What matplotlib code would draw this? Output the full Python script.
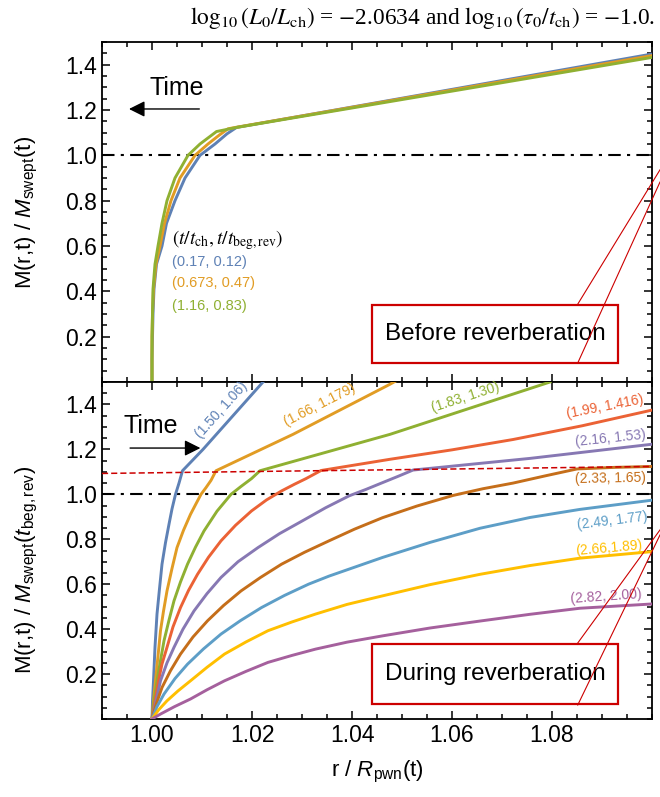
import numpy as np
import matplotlib
matplotlib.use("Agg")
import matplotlib.pyplot as plt
from matplotlib.ticker import MultipleLocator, FormatStrFormatter
from matplotlib.patches import Rectangle

plt.rcParams['font.family'] = ['Liberation Sans', 'DejaVu Sans']
plt.rcParams['mathtext.fontset'] = 'custom'
plt.rcParams['mathtext.rm'] = 'Liberation Sans'
plt.rcParams['mathtext.it'] = 'Liberation Sans:italic'
plt.rcParams['mathtext.bf'] = 'Liberation Sans:bold'

# Mathematica default palette
c_blue, c_orange, c_green = "#5E81B5", "#E19C24", "#8FB032"
c_red, c_purple, c_brown = "#EB6235", "#8778B3", "#C56E1A"
c_lblue, c_yellow, c_mag = "#5D9EC7", "#FFBF00", "#A5609D"
box_red = "#CC0000"

# ---- top panel: before reverberation ----
top_labels = ["(0.17, 0.12)", "(0.673, 0.47)", "(1.16, 0.83)"]
top_colors = [c_blue, c_orange, c_green]

top_blue_r = [1.0, 1.0, 1.0001, 1.0002, 1.0004, 1.0009, 1.002, 1.0029, 1.0046, 1.0066,
              1.0096, 1.0126, 1.015, 1.0169, 1.10]
top_blue_m = [0.0, 0.1, 0.2, 0.3, 0.41, 0.52, 0.6, 0.7, 0.8, 0.9, 1.0, 1.05, 1.095, 1.123, 1.447]
top_orange_r = [1.0, 1.0, 1.0, 1.0001, 1.0003, 1.0008, 1.0016, 1.0025, 1.0038, 1.0056,
                1.0086, 1.0112, 1.0135, 1.0152, 1.0169, 1.10]
top_orange_m = [0.0, 0.1, 0.2, 0.3, 0.41, 0.52, 0.6, 0.7, 0.8, 0.9, 1.0, 1.05, 1.09, 1.117, 1.124, 1.44]
top_green_r = [1.0, 1.0, 1.0, 1.0001, 1.0002, 1.0006, 1.0012, 1.002, 1.003, 1.0046,
               1.0072, 1.0096, 1.0129, 1.0169, 1.10]
top_green_m = [0.0, 0.1, 0.2, 0.3, 0.41, 0.52, 0.6, 0.7, 0.8, 0.9, 1.0, 1.05, 1.105, 1.123, 1.432]

# ---- bottom panel: during reverberation ----
bot_labels = ["(1.50, 1.06)", "(1.66, 1.179)", "(1.83, 1.30)", "(1.99, 1.416)",
              "(2.16, 1.53)", "(2.33, 1.65)", "(2.49, 1.77)", "(2.66,1.89)", "(2.82, 2.00)"]
bot_colors = [c_blue, c_orange, c_green, c_red, c_purple, c_brown, c_lblue, c_yellow, c_mag]

b1_r = [1.0, 1.0001, 1.0003, 1.0006, 1.001, 1.0015, 1.002, 1.0027, 1.0034, 1.004, 1.0047,
        1.0054, 1.0061, 1.0102, 1.0222]
b1_m = [0.0, 0.08, 0.17, 0.32, 0.467, 0.58, 0.689, 0.785, 0.867, 0.935, 1.0,
        1.05, 1.105, 1.2, 1.5]
b2_r = [1.0, 1.0003, 1.0007, 1.0012, 1.0017, 1.0023, 1.003, 1.004, 1.005, 1.0063, 1.0077,
        1.0088, 1.0098, 1.0108, 1.0118, 1.0128, 1.0282, 1.0476, 1.05]
b2_m = [0.0, 0.08, 0.17, 0.28, 0.393, 0.48, 0.57, 0.67, 0.763, 0.84, 0.911,
        0.958, 1.0, 1.03, 1.062, 1.105, 1.267, 1.49, 1.52]
b3_r = [1.0, 1.0004, 1.001, 1.0017, 1.0024, 1.0034, 1.0044, 1.0057, 1.0071, 1.0087, 1.0104,
        1.013, 1.0158, 1.0178, 1.0199, 1.0216, 1.0476, 1.0796]
b3_m = [0.0, 0.08, 0.17, 0.26, 0.348, 0.44, 0.526, 0.61, 0.689, 0.765, 0.837,
        0.925, 1.0, 1.035, 1.07, 1.105, 1.267, 1.5]
b4_r = [1.0, 1.0006, 1.0013, 1.002, 1.003, 1.0042, 1.0057, 1.0073, 1.0091, 1.0113, 1.0138,
        1.0167, 1.0199, 1.0229, 1.0259, 1.0285, 1.0308, 1.0338, 1.0476, 1.06, 1.0722, 1.086, 1.10]
b4_m = [0.0, 0.08, 0.17, 0.245, 0.319, 0.41, 0.496, 0.572, 0.644, 0.72, 0.793,
        0.862, 0.926, 0.975, 1.015, 1.045, 1.07, 1.106, 1.156, 1.198, 1.244, 1.305, 1.375]
b5_r = [1.0, 1.0008, 1.0017, 1.003, 1.0044, 1.0062, 1.0084, 1.011, 1.0138, 1.0172, 1.0212,
        1.0255, 1.03, 1.0347, 1.0394, 1.0428, 1.0461, 1.0492, 1.0522, 1.0756, 1.10]
b5_m = [0.0, 0.08, 0.17, 0.25, 0.319, 0.4, 0.481, 0.558, 0.63, 0.7, 0.763,
        0.825, 0.881, 0.94, 0.993, 1.022, 1.052, 1.08, 1.108, 1.16, 1.223]
b6_r = [1.0, 1.0009, 1.002, 1.0037, 1.0057, 1.0082, 1.0111, 1.0143, 1.0178, 1.0217, 1.0259,
        1.0305, 1.0354, 1.0405, 1.0461, 1.053, 1.0602, 1.0662, 1.0722, 1.0786, 1.085, 1.0925, 1.10]
b6_m = [0.0, 0.07, 0.14, 0.215, 0.289, 0.365, 0.437, 0.505, 0.57, 0.63, 0.689,
        0.742, 0.793, 0.845, 0.896, 0.948, 0.995, 1.025, 1.05, 1.082, 1.113, 1.12, 1.124]
b7_r = [1.0, 1.001, 1.0024, 1.0046, 1.0071, 1.0103, 1.0138, 1.0177, 1.0219, 1.0265, 1.0313,
        1.0354, 1.0394, 1.0461, 1.0556, 1.0656, 1.0756, 1.0856, 1.10]
b7_m = [0.0, 0.055, 0.111, 0.18, 0.244, 0.312, 0.378, 0.438, 0.496, 0.55, 0.6,
        0.636, 0.667, 0.719, 0.786, 0.849, 0.897, 0.933, 0.974]
b8_r = [1.0, 1.0013, 1.003, 1.0052, 1.0077, 1.011, 1.0145, 1.0188, 1.0232, 1.028, 1.0327,
        1.039, 1.0461, 1.0556, 1.0656, 1.0756, 1.0856, 1.10]
b8_m = [0.0, 0.04, 0.081, 0.125, 0.17, 0.23, 0.289, 0.343, 0.393, 0.432, 0.467,
        0.51, 0.548, 0.598, 0.644, 0.683, 0.716, 0.745]
b9_r = [1.0, 1.0017, 1.0045, 1.0077, 1.011, 1.0145, 1.0188, 1.0232, 1.028, 1.0327, 1.039,
        1.0461, 1.0556, 1.0656, 1.0756, 1.0856, 1.10]
b9_m = [0.0, 0.022, 0.055, 0.089, 0.13, 0.17, 0.212, 0.252, 0.283, 0.311, 0.342,
        0.37, 0.405, 0.436, 0.466, 0.493, 0.512]

# label placement (axes fraction) and rotation for the bottom-panel curve tags
bot_lab_x = [0.218, 0.396, 0.66, 0.915, 0.924, 0.924, 0.927, 0.922, 0.916]
bot_lab_y = [0.917, 0.932, 0.953, 0.926, 0.834, 0.715, 0.588, 0.507, 0.362]
bot_lab_rot = [48, 27, 18, 11, 6, 1, 7, 5, 4]

xlim = (0.99, 1.10)
ylim = (0.0, 1.5)
xticks = [1.00, 1.02, 1.04, 1.06, 1.08]
yticks = [0.2, 0.4, 0.6, 0.8, 1.0, 1.2, 1.4]
tick_fs = 16.5

fig = plt.figure(figsize=(6.6, 7.97), dpi=100)
ax1 = fig.add_axes([102 / 660, 1 - 382 / 797, 550 / 660, 340 / 797])
ax2 = fig.add_axes([102 / 660, 1 - 719 / 797, 550 / 660, 337 / 797])


def style(ax, show_x):
    ax.set_xlim(*xlim)
    ax.set_ylim(*ylim)
    ax.set_xticks(xticks)
    ax.xaxis.set_minor_locator(MultipleLocator(0.005))
    ax.set_yticks(yticks)
    ax.yaxis.set_minor_locator(MultipleLocator(0.05))
    ax.xaxis.set_major_formatter(FormatStrFormatter("%.2f"))
    ax.yaxis.set_major_formatter(FormatStrFormatter("%.1f"))
    ax.tick_params(which="both", direction="in", top=True, right=True, width=1.1,
                   labelsize=tick_fs, labelbottom=show_x)
    ax.tick_params(which="major", length=6)
    ax.tick_params(which="minor", length=3.5)
    for s in ax.spines.values():
        s.set_linewidth(1.3)
    ax.axhline(1.0, color="k", lw=1.5, ls=(0, (6, 3, 1.5, 3)), zorder=1)


style(ax1, False)
style(ax2, True)

# top panel curves
lw = 2.1
ax1.plot(top_blue_r, top_blue_m, color=c_blue, lw=lw, zorder=3)
ax1.plot(top_orange_r, top_orange_m, color=c_orange, lw=lw, zorder=4)
ax1.plot(top_green_r, top_green_m, color=c_green, lw=lw, zorder=5)

ax1.text(0.127, 0.418, r"$(t/t_{\rm ch}, t/t_{\rm beg,rev})$", transform=ax1.transAxes,
         fontsize=14, math_fontfamily="stix", ha="left", va="center")
for lab, col, yy in zip(top_labels, top_colors, [0.353, 0.291, 0.224]):
    ax1.text(0.127, yy, lab, transform=ax1.transAxes, fontsize=10.5, color=col,
             ha="left", va="center")

# bottom panel curves
bot_r = [b1_r, b2_r, b3_r, b4_r, b5_r, b6_r, b7_r, b8_r, b9_r]
bot_m = [b1_m, b2_m, b3_m, b4_m, b5_m, b6_m, b7_m, b8_m, b9_m]
for rr, mm, col in zip(bot_r, bot_m, bot_colors):
    ax2.plot(rr, mm, color=col, lw=lw, zorder=3)

ax2.plot([0.99, 1.10], [1.093, 1.124], color=box_red, lw=1.1, ls=(0, (4, 2)), zorder=4)

for lab, col, xx, yy, rot in zip(bot_labels, bot_colors, bot_lab_x, bot_lab_y, bot_lab_rot):
    ax2.text(xx, yy, lab, transform=ax2.transAxes, fontsize=10, color=col,
             rotation=rot, rotation_mode="anchor", ha="center", va="center")

# Time arrows
ax1.annotate("", xy=(0.044, 0.803), xytext=(0.182, 0.803), xycoords="axes fraction",
             arrowprops=dict(arrowstyle="-|>", color="k", lw=1.0, mutation_scale=24))
ax1.text(0.135, 0.865, "Time", transform=ax1.transAxes, fontsize=18, ha="center", va="center")
ax2.annotate("", xy=(0.184, 0.804), xytext=(0.046, 0.804), xycoords="axes fraction",
             arrowprops=dict(arrowstyle="-|>", color="k", lw=1.0, mutation_scale=24))
ax2.text(0.089, 0.869, "Time", transform=ax2.transAxes, fontsize=18, ha="center", va="center")

# boxes with captions and the connector lines
for ax, (y0, y1), txt, la, lb in [
        (ax1, (0.056, 0.226), "Before reverberation", (0.229, 0.624), (0.056, 0.588)),
        (ax2, (0.045, 0.223), "During reverberation", (0.2255, 0.561), (0.0415, 0.546))]:
    ax.add_patch(Rectangle((0.491, y0), 0.938 - 0.491, y1 - y0, transform=ax.transAxes,
                           fill=False, edgecolor=box_red, lw=1.6, zorder=6))
    ax.text((0.491 + 0.938) / 2, (y0 + y1) / 2, txt, transform=ax.transAxes,
            fontsize=17.5, ha="center", va="center", zorder=7)
    ax.plot([0.865, 1.0145], [la[0], la[1]], transform=ax.transAxes, color=box_red,
            lw=0.8, clip_on=False, zorder=8)
    ax.plot([0.865, 1.0145], [lb[0], lb[1]], transform=ax.transAxes, color=box_red,
            lw=0.8, clip_on=False, zorder=8)

# axis labels
fig.text(27 / 660, 1 - 212 / 797, r"M(r,t) / $\mathit{M}_{\rm swept}$(t)", rotation=90,
         fontsize=16, ha="center", va="center")
fig.text(27 / 660, 1 - 570 / 797, r"M(r,t) / $\mathit{M}_{\rm swept}$($\mathit{t}_{\rm beg,rev}$)",
         rotation=90, fontsize=16, ha="center", va="center")
fig.text(377 / 660, 1 - 772 / 797, r"r / $\mathit{R}_{\rm pwn}$(t)", fontsize=16,
         ha="center", va="center")

fig.text(0.992, 1 - 18 / 797,
         r"$\log_{10}(L_0/L_{\rm ch})$ = $-$2.0634 and $\log_{10}(\tau_0/t_{\rm ch})$ = $-$1.0.",
         fontsize=16.8, family="Liberation Serif", math_fontfamily="stix",
         ha="right", va="center")

fig.savefig("out.png", dpi=100)
